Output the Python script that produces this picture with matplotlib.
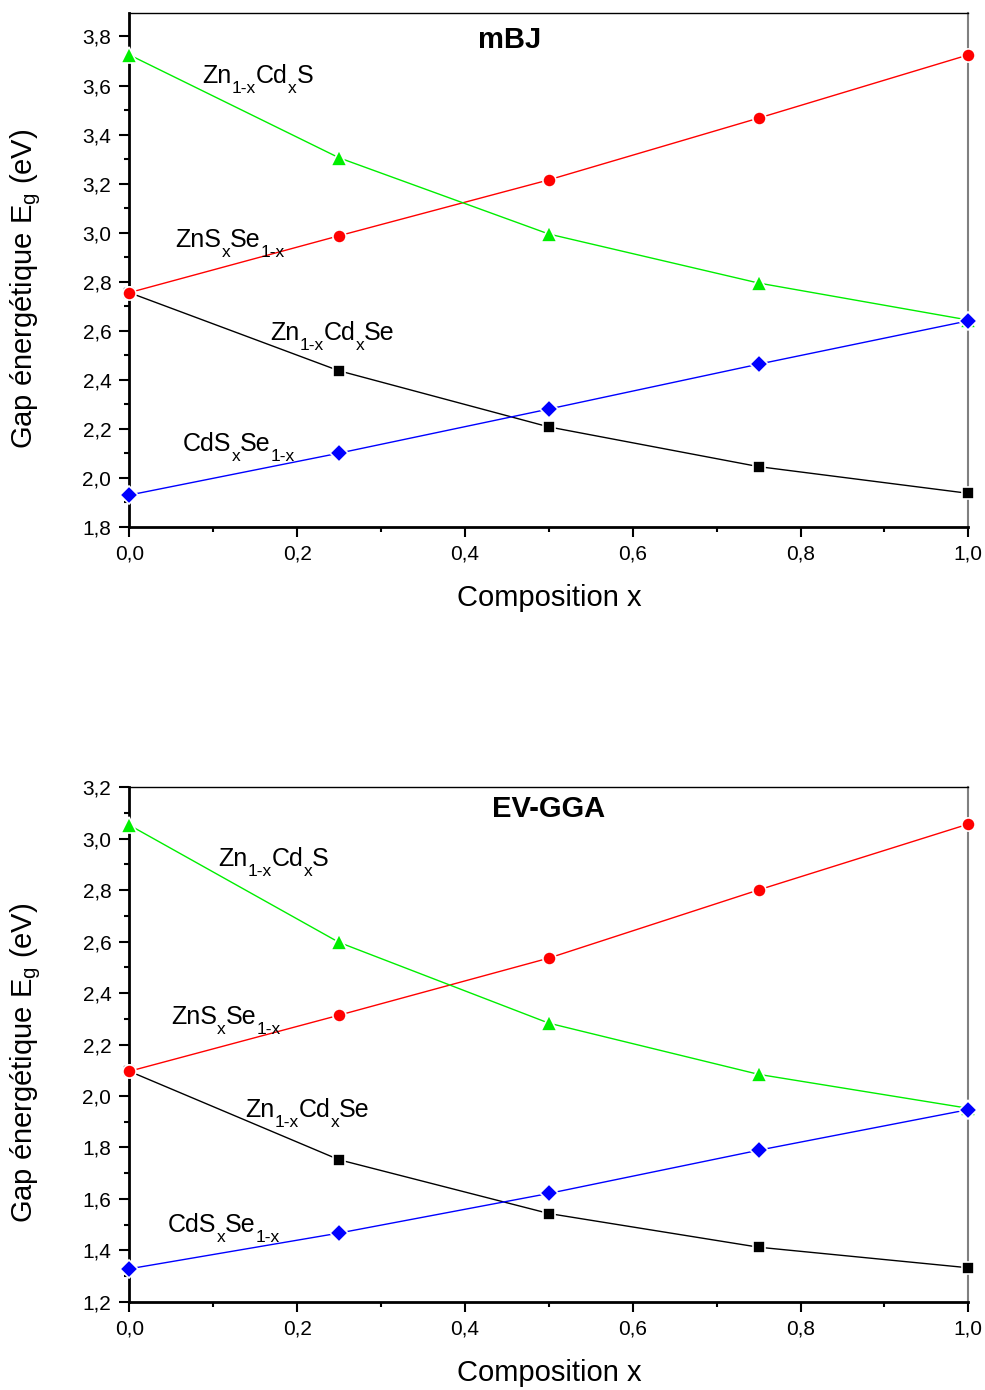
import matplotlib
matplotlib.use("Agg")
import matplotlib.pyplot as plt
from matplotlib.ticker import MultipleLocator, FuncFormatter
from matplotlib.transforms import offset_copy

plt.rcParams['font.family'] = ['Liberation Sans', 'DejaVu Sans']
plt.rcParams['mathtext.fontset'] = 'custom'
plt.rcParams['mathtext.rm'] = 'Liberation Sans'
plt.rcParams['mathtext.it'] = 'Liberation Sans'

# Composition x
x = [0.0, 0.25, 0.5, 0.75, 1.0]

# mBJ band gaps (eV)
mbj_znsse = [2.755, 2.987, 3.215, 3.467, 3.725]
mbj_zncds = [3.725, 3.305, 2.994, 2.794, 2.643]
mbj_zncdse = [2.755, 2.436, 2.207, 2.045, 1.936]
mbj_cdsse = [1.929, 2.100, 2.280, 2.463, 2.640]

# EV-GGA band gaps (eV)
gga_znsse = [2.096, 2.314, 2.536, 2.801, 3.057]
gga_zncds = [3.053, 2.597, 2.283, 2.084, 1.952]
gga_zncdse = [2.096, 1.752, 1.543, 1.412, 1.332]
gga_cdsse = [1.328, 1.467, 1.621, 1.789, 1.947]

# Alloy names split into (text, is_subscript) pieces
lbl_zncds = [('Zn', False), ('1-x', True), ('Cd', False), ('x', True), ('S', False)]
lbl_znsse = [('ZnS', False), ('x', True), ('Se', False), ('1-x', True)]
lbl_zncdse = [('Zn', False), ('1-x', True), ('Cd', False), ('x', True), ('Se', False)]
lbl_cdsse = [('CdS', False), ('x', True), ('Se', False), ('1-x', True)]

fig = plt.figure(figsize=(9.85, 13.9), dpi=100)
ax1 = fig.add_axes([0.1313, 0.6211, 0.8518, 0.3694])
ax2 = fig.add_axes([0.1313, 0.0635, 0.8518, 0.3701])
renderer = fig.canvas.get_renderer()

comma = FuncFormatter(lambda v, p: f"{v:.1f}".replace('.', ','))


def chem_label(ax, tx, ty, parts, size=18, sub_size=12.5, drop=10):
    """Write a formula with lowered subscripts, piece by piece."""
    dx = 0.0
    for s, sub in parts:
        tr = offset_copy(ax.transData, fig=fig, x=dx, y=-drop if sub else 0, units='dots')
        t = ax.text(tx, ty, s, fontsize=sub_size if sub else size, transform=tr,
                    ha='left', va='baseline')
        dx += t.get_window_extent(renderer=renderer).width


def draw(ax, znsse, zncds, zncdse, cdsse, ylim, title, title_pos, labels):
    kw = dict(lw=1.0, markeredgecolor='white', markeredgewidth=1.2, clip_on=False, zorder=3)
    ax.plot(x, zncdse, color='black', marker='s', ms=8, **kw)
    ax.plot(x, znsse, color='#ff0000', marker='o', ms=9.5, **kw)
    ax.plot(x, zncds, color='#00ee00', marker='^', ms=11, **kw)
    ax.plot(x, cdsse, color='#0000ff', marker='D', ms=9, **kw)

    ax.set_xlim(0, 1.0)
    ax.set_ylim(*ylim)
    ax.xaxis.set_major_locator(MultipleLocator(0.2))
    ax.xaxis.set_minor_locator(MultipleLocator(0.1))
    ax.yaxis.set_major_locator(MultipleLocator(0.2))
    ax.yaxis.set_minor_locator(MultipleLocator(0.1))
    ax.xaxis.set_major_formatter(comma)
    ax.yaxis.set_major_formatter(comma)
    ax.tick_params(which='major', direction='out', length=7, width=1.5, labelsize=15, pad=6)
    ax.tick_params(which='minor', direction='out', length=3.5, width=1.5)
    ax.tick_params(top=False, right=False)

    ax.spines['left'].set_linewidth(2)
    ax.spines['bottom'].set_linewidth(2)
    ax.spines['top'].set_linewidth(1)
    ax.spines['right'].set_linewidth(1.5)
    ax.spines['right'].set_color('#808080')

    ax.set_xlabel('Composition x', fontsize=21)
    ax.set_ylabel(r'Gap énergétique E$_{\mathregular{g}}$ (eV)', fontsize=21)
    ax.xaxis.set_label_coords(0.5, -0.111)
    ax.yaxis.set_label_coords(-0.103, 0.464)

    ax.text(title_pos[0], title_pos[1], title, fontsize=21, fontweight='bold',
            ha='center', va='center')
    for (tx, ty), parts in zip(labels, [lbl_zncds, lbl_znsse, lbl_zncdse, lbl_cdsse]):
        chem_label(ax, tx, ty, parts)


draw(ax1, mbj_znsse, mbj_zncds, mbj_zncdse, mbj_cdsse, (1.8, 3.895), 'mBJ', (0.4535, 3.787),
     [(0.087, 3.611), (0.055, 2.942), (0.168, 2.562), (0.064, 2.109)])
draw(ax2, gga_znsse, gga_zncds, gga_zncdse, gga_cdsse, (1.2, 3.2), 'EV-GGA', (0.5, 3.116),
     [(0.106, 2.894), (0.050, 2.279), (0.138, 1.918), (0.046, 1.473)])

fig.savefig('out.png', dpi=100)
